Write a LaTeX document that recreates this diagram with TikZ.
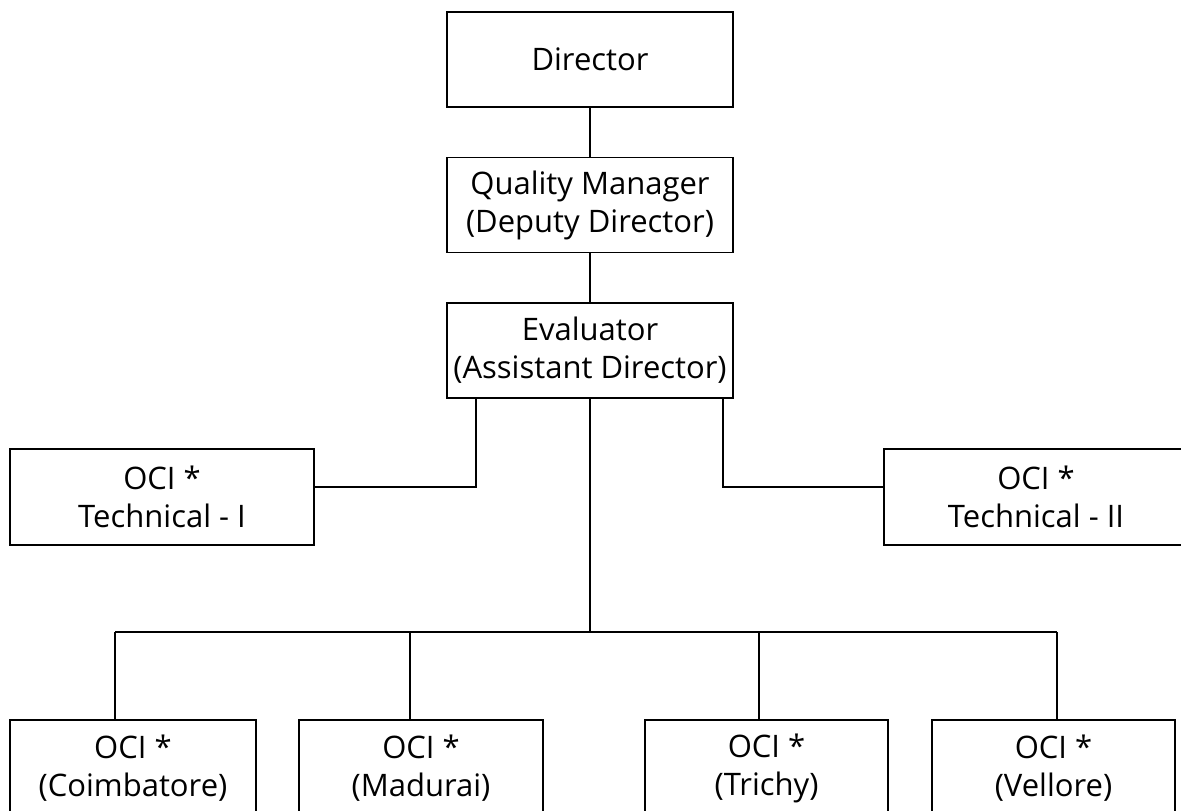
\documentclass[tikz,border=0pt]{standalone}
\usepackage{fontspec}
\setmainfont{Open Sans}
\usetikzlibrary{positioning}

\tikzset{
  post/.style={draw, line width=1.3pt, rectangle, align=center, inner sep=0pt,
    font=\fontsize{31}{38}\selectfont},
  topbox/.style={post, minimum width=286pt, minimum height=95pt},
  sidebox/.style={post, minimum width=304pt, minimum height=96pt},
  linkline/.style={line width=1.3pt}
}

\begin{document}
\begin{tikzpicture}[x=1pt,y=-1pt]
  \useasboundingbox (0,0) rectangle (1181,811);
  \clip (0,0) rectangle (1181,811);

  % upper chain
  \node[topbox] (director) at (590,59.5) {Director};
  \node[topbox] (quality) at (590,205) {Quality Manager\\(Deputy Director)};
  \node[topbox] (evaluator) at (590,350.5) {Evaluator\\(Assistant Director)};

  % technical posts
  \node[sidebox] (techA) at (162,497) {OCI *\\Technical - I};
  \node[sidebox] (techB) at (1036,497) {OCI *\\Technical - II};

  % regional posts
  \node[post, minimum width=246pt, minimum height=96pt] (coimbatore) at (133,768) {OCI *\\(Coimbatore)};
  \node[post, minimum width=244pt, minimum height=96pt] (madurai) at (421,768) {OCI *\\(Madurai)};
  \node[post, minimum width=243pt, minimum height=96pt] (trichy) at (766.5,768) {OCI *\\(Trichy)};
  \node[post, minimum width=243pt, minimum height=96pt] (vellore) at (1053.5,768) {OCI *\\(Vellore)};

  \coordinate (bus) at (590,632);
  \coordinate (dropA) at (115,632);
  \coordinate (dropB) at (410,632);
  \coordinate (dropC) at (759,632);
  \coordinate (dropD) at (1057,632);

  \draw[linkline] (director) -- (quality);
  \draw[linkline] (quality) -- (evaluator);
  \draw[linkline] ([xshift=-114pt]evaluator.south) |- ([yshift=10pt]techA.east);
  \draw[linkline] ([xshift=133pt]evaluator.south) |- ([yshift=10pt]techB.west);
  \draw[linkline] (evaluator) -- (bus);
  \draw[linkline] (dropA) -- (dropD);
  \draw[linkline] (dropA) -- (dropA |- coimbatore.north);
  \draw[linkline] (dropB) -- (dropB |- madurai.north);
  \draw[linkline] (dropC) -- (dropC |- trichy.north);
  \draw[linkline] (dropD) -- (dropD |- vellore.north);
\end{tikzpicture}
\end{document}
